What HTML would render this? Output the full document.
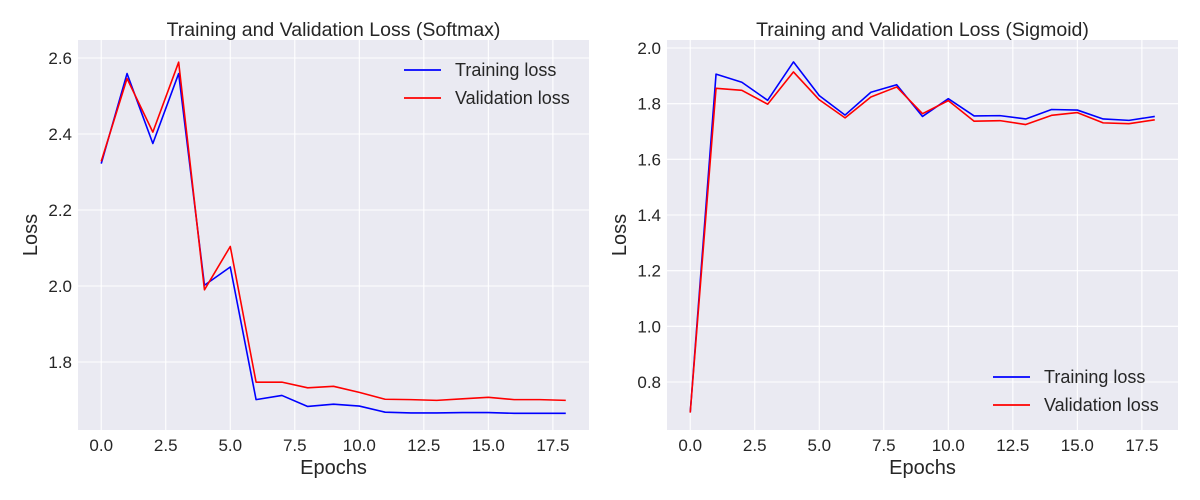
<!DOCTYPE html>
<html><head><meta charset="utf-8">
<style>
body{margin:0;background:#fff;}
svg{display:block;font-family:"Liberation Sans","DejaVu Sans",sans-serif;}
</style></head>
<body>
<svg id="chart" width="1200" height="500" viewBox="0 0 1200 500"></svg>
<script>
const epochs = [0,1,2,3,4,5,6,7,8,9,10,11,12,13,14,15,16,17,18];
const softmaxTrain = [2.322,2.559,2.375,2.559,2.002,2.05,1.701,1.712,1.683,1.689,1.684,1.668,1.666,1.666,1.667,1.667,1.665,1.665,1.665];
const softmaxVal = [2.328,2.546,2.405,2.589,1.990,2.104,1.747,1.747,1.732,1.736,1.720,1.702,1.701,1.699,1.703,1.707,1.701,1.701,1.699];
const sigmoidTrain = [0.69,1.906,1.877,1.812,1.95,1.829,1.759,1.841,1.868,1.754,1.818,1.756,1.757,1.745,1.779,1.777,1.745,1.74,1.754];
const sigmoidVal = [0.69,1.855,1.848,1.798,1.914,1.814,1.749,1.824,1.860,1.764,1.811,1.737,1.739,1.725,1.758,1.768,1.731,1.728,1.742];
const xTicks = [0,2.5,5,7.5,10,12.5,15,17.5];
const xTickLabels = ["0.0","2.5","5.0","7.5","10.0","12.5","15.0","17.5"];
const softmaxYTicks = [1.8,2.0,2.2,2.4,2.6];
const sigmoidYTicks = [0.8,1.0,1.2,1.4,1.6,1.8,2.0];

const NS="http://www.w3.org/2000/svg";
const svg=document.getElementById('chart');
function mk(tag,attrs,parent){const e=document.createElementNS(NS,tag);for(const k in attrs)e.setAttribute(k,attrs[k]);(parent||svg).appendChild(e);return e;}

function panel(cfg){
  const g=mk('g',{});
  
  
  const L=cfg.left,R=cfg.right,T=40,B=430;
  const xMin=-0.9,xMax=18.9;
  const xs=v=>L+(v-xMin)*(R-L)/(xMax-xMin);
  const ys=v=>cfg.yAp+(v-cfg.yA)*(cfg.yBp-cfg.yAp)/(cfg.yB-cfg.yA);
  const bg=mk('rect',{x:L,y:T,width:R-L,height:B-T,fill:'#eaeaf2'},g);
  
  
  xTicks.forEach((t,i)=>{
    mk('line',{x1:xs(t),x2:xs(t),y1:T,y2:B,stroke:'#fff','stroke-width':1.1},g);
    const tx=mk('text',{x:xs(t),y:B+21,'text-anchor':'middle','font-size':17,fill:'#262626'},g);
    tx.textContent=xTickLabels[i];
    
    
  });
  cfg.yTicks.forEach(t=>{
    mk('line',{x1:L,x2:R,y1:ys(t),y2:ys(t),stroke:'#fff','stroke-width':1.1},g);
    const tx=mk('text',{x:L-6,y:ys(t)+6,'text-anchor':'end','font-size':17,fill:'#262626'},g);
    tx.textContent=t.toFixed(1);
    
    
  });
  [[cfg.train,'#0000ff','training-loss-line'],[cfg.val,'#ff0000','validation-loss-line']].forEach(([d,c,n])=>{
    const p=mk('polyline',{points:d.map((v,i)=>xs(epochs[i])+','+ys(v)).join(' '),fill:'none',stroke:c,'stroke-width':1.6,'stroke-linejoin':'round'},g);
    
    
  });
  const ti=mk('text',{x:(L+R)/2,y:36,'text-anchor':'middle','font-size':19.5,fill:'#262626'},g);
  ti.textContent=cfg.title;
  
  
  const xl=mk('text',{x:(L+R)/2,y:474,'text-anchor':'middle','font-size':20,fill:'#262626'},g);
  xl.textContent='Epochs';
  
  
  const yl=mk('text',{x:cfg.ylx,y:(T+B)/2,'text-anchor':'middle','font-size':20,fill:'#262626',transform:`rotate(-90 ${cfg.ylx} ${(T+B)/2})`},g);
  yl.textContent='Loss';
  
  
  const lg=mk('g',{},g);
  
  
  [['Training loss','#0000ff'],['Validation loss','#ff0000']].forEach(([lab,c],i)=>{
    const y=cfg.legY+i*28;
    mk('line',{x1:cfg.legX,x2:cfg.legX+37,y1:y,y2:y,stroke:c,'stroke-width':1.8},lg);
    const t=mk('text',{x:cfg.legX+51,y:y+6,'font-size':18,fill:'#262626'},lg);
    t.textContent=lab;
    
    
  });
}
panel({name:'softmax-chart',left:78,right:589,yA:1.8,yAp:362,yB:2.6,yBp:58,
  yTicks:softmaxYTicks,train:softmaxTrain,val:softmaxVal,title:'Training and Validation Loss (Softmax)',ylx:37,legX:404,legY:70});
panel({name:'sigmoid-chart',left:667,right:1178,yA:0.8,yAp:382,yB:2.0,yBp:48,
  yTicks:sigmoidYTicks,train:sigmoidTrain,val:sigmoidVal,title:'Training and Validation Loss (Sigmoid)',ylx:626,legX:993,legY:377});
</script>
</body></html>
